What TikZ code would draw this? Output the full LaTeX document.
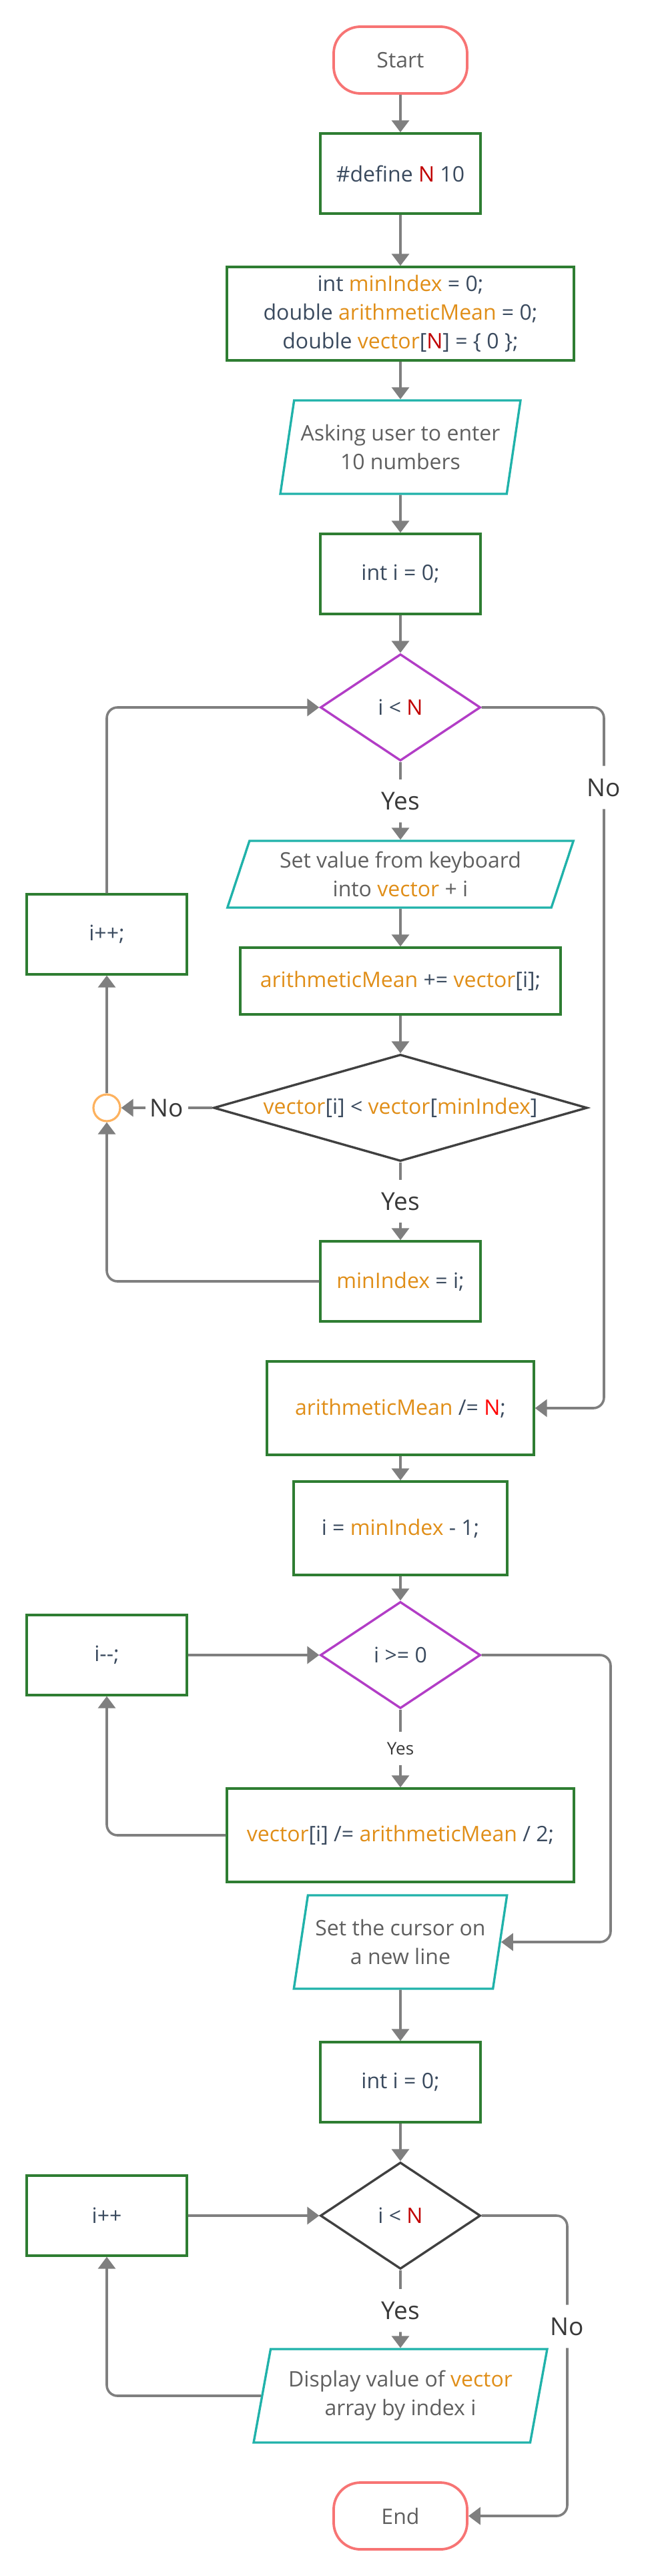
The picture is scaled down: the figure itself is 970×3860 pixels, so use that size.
\documentclass[tikz,border=0pt]{standalone}
\usepackage{fontspec}
\setmainfont{Open Sans}
\usetikzlibrary{shapes.geometric,arrows.meta}
\definecolor{termred}{HTML}{F77474}
\definecolor{boxgreen}{HTML}{2E7D32}
\definecolor{iocyan}{HTML}{20B2AA}
\definecolor{condpurple}{HTML}{B23DC6}
\definecolor{conddark}{HTML}{404040}
\definecolor{linegray}{HTML}{7F7F7F}
\definecolor{codetext}{HTML}{3A4A5E}
\definecolor{iotext}{HTML}{5F5F5F}
\definecolor{vartext}{HTML}{E08E18}
\definecolor{ntext}{HTML}{C00000}
\definecolor{circorange}{HTML}{FDB25F}
\newcommand{\vn}[1]{\textcolor{vartext}{#1}}
\newcommand{\cn}{\textcolor{ntext}{N}}

\begin{document}
\begin{tikzpicture}[x=0.5pt,y=-0.5pt,
font=\fontsize{16}{21.5}\selectfont,
every node/.style={text=codetext, align=center},
term/.style={draw=termred, line width=1.9pt, rounded corners=20pt, minimum width=100pt, minimum height=50pt, text=iotext},
proc/.style={draw=boxgreen, line width=1.7pt, inner sep=2pt},
io/.style={trapezium, trapezium left angle=74, trapezium right angle=106, trapezium stretches=true,
    draw=iocyan, line width=1.7pt, inner sep=0pt, minimum height=70pt, text=iotext},
cond/.style={diamond, draw=condpurple, line width=1.7pt, inner sep=0pt, minimum width=120pt, minimum height=80pt},
lbl/.style={text=black!78, inner sep=0pt, minimum size=32pt, font=\fontsize{18.5}{22}\selectfont},
ln/.style={draw=linegray, line width=1.8pt, rounded corners=8pt},
arr/.style={ln, -{Triangle[length=9pt,width=13pt]}}]
\useasboundingbox (0,0) rectangle (970,3860);

\node[term] (start) at (600,90) {Start};
\node[proc, minimum width=120pt, minimum height=60pt] (def) at (600,260) {\#define \cn{} 10};
\node[proc, minimum width=260pt, minimum height=70pt] (decl) at (600,470)
  {int \vn{minIndex} = 0;\\ double \vn{arithmeticMean} = 0;\\ double \vn{vector}[\cn] = \{ 0 \};};
\node[io, minimum width=180pt] (ask) at (600,670) {Asking user to enter\\ 10 numbers};
\node[proc, minimum width=120pt, minimum height=60pt] (init) at (600,860) {int i = 0;};
\node[cond] (cond1) at (600,1060) {i < \cn};
\node[lbl] (yes1) at (600,1200) {Yes};
\node[lbl] (no1) at (905,1180) {No};
\node[io, trapezium left angle=68.7, trapezium right angle=111.3, minimum width=260pt, minimum height=50pt] (setval) at (600,1310)
  {Set value from keyboard\\ into \vn{vector} + i};
\node[proc, minimum width=120pt, minimum height=60pt] (incr1) at (160,1400) {i++;};
\node[proc, minimum width=240pt, minimum height=50pt] (accum) at (600,1470) {\vn{arithmeticMean} += \vn{vector}[i];};
\node[cond, draw=conddark, aspect=3.5, minimum width=280pt] (cond2) at (600,1660)
  {\vn{vector}[i] < \vn{vector}[\vn{minIndex}]};
\node[circle, draw=circorange, line width=1.6pt, minimum size=20pt, inner sep=0pt] (join) at (160,1660) {};
\node[lbl] (no2) at (250,1660) {No};
\node[lbl] (yes2) at (600,1800) {Yes};
\node[proc, minimum width=120pt, minimum height=60pt] (minidx) at (600,1920) {\vn{minIndex} = i;};
\node[proc, minimum width=200pt, minimum height=70pt] (divn) at (600,2110) {\vn{arithmeticMean} /= \textcolor{red}{N};};
\node[proc, minimum width=160pt, minimum height=70pt] (seti) at (600,2290) {i = \vn{minIndex} - 1;};
\node[cond] (cond3) at (600,2480) {i >= 0};
\node[proc, minimum width=120pt, minimum height=60pt] (decr) at (160,2480) {i-{}-;};
\node[lbl, minimum size=25pt, font=\fontsize{13}{16}\selectfont] (yes3) at (600,2620) {Yes};
\node[proc, minimum width=260pt, minimum height=70pt] (scale) at (600,2750) {\vn{vector}[i] /= \vn{arithmeticMean} / 2;};
\coordinate (r3) at (915,2480);
\node[io, minimum width=160pt] (cursor) at (600,2910) {Set the cursor on\\ a new line};
\node[proc, minimum width=120pt, minimum height=60pt] (init2) at (600,3120) {int i = 0;};
\node[cond, draw=conddark] (cond4) at (600,3320) {i < \cn};
\node[proc, minimum width=120pt, minimum height=60pt] (incr2) at (160,3320) {i++};
\node[lbl] (yes4) at (600,3462) {Yes};
\node[lbl] (no4) at (850,3486) {No};
\node[io, trapezium left angle=73.7, trapezium right angle=106.3, minimum width=220pt] (disp) at (600,3590)
  {Display value of \vn{vector}\\ array by index i};
\node[term] (end) at (600,3770) {End};

\draw[arr] (start) -- (def);
\draw[arr] (def) -- (decl);
\draw[arr] (decl) -- (ask);
\draw[arr] (ask) -- (init);
\draw[arr] (init) -- (cond1);
\draw[ln] (cond1.south) -- (yes1.north);
\draw[arr] (yes1.south) -- (setval.north);
\draw[ln] (cond1.east) -| (no1.north);
\draw[arr] (no1.south) |- (divn.east);
\draw[arr] (incr1.north) |- (cond1.west);
\draw[arr] (setval) -- (accum);
\draw[arr] (accum) -- (cond2);
\draw[ln] (cond2.west) -- (no2.east);
\draw[arr] (no2.west) -- (join.east);
\draw[arr] (join.north) -- (incr1.south);
\draw[ln] (cond2.south) -- (yes2.north);
\draw[arr] (yes2.south) -- (minidx.north);
\draw[arr] (minidx.west) -| (join.south);
\draw[arr] (divn) -- (seti);
\draw[arr] (seti) -- (cond3);
\draw[arr] (decr.east) -- (cond3.west);
\draw[ln] (cond3.south) -- (yes3.north);
\draw[arr] (yes3.south) -- (scale.north);
\draw[arr] (scale.west) -| (decr.south);
\draw[arr] (cond3.east) -- (r3) |- (cursor.right side);
\draw[arr] (cursor) -- (init2);
\draw[arr] (init2) -- (cond4);
\draw[arr] (incr2.east) -- (cond4.west);
\draw[ln] (cond4.south) -- (yes4.north);
\draw[arr] (yes4.south) -- (disp.north);
\draw[arr] (disp.left side) -| (incr2.south);
\draw[ln] (cond4.east) -| (no4.north);
\draw[arr] (no4.south) |- (end.east);
\end{tikzpicture}
\end{document}
